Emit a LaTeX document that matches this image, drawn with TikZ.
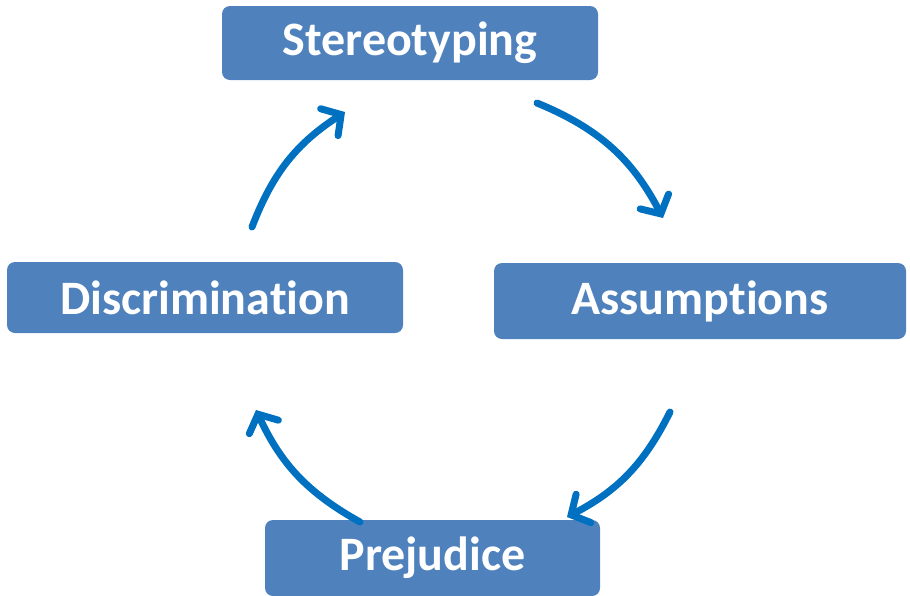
\documentclass[tikz,border=0pt]{standalone}
\usepackage{fontspec}
\setmainfont{Carlito}[Ligatures=NoCommon]
\usepackage{tikz}
\usetikzlibrary{arrows.meta}
\definecolor{cajazul}{HTML}{4F81BD}
\definecolor{flechazul}{HTML}{0070C0}
\tikzstyle{etapa} = [fill=cajazul, text=white, rectangle, rounded corners=8pt, inner sep=0pt, font=\bfseries\fontsize{48}{56}\selectfont]
\tikzstyle{flecha} = [draw=flechazul, line width=7pt, line cap=round, -{Straight Barb[length=14pt, width=32pt, line cap=round]}]

\begin{document}
\begin{tikzpicture}[x=1pt, y=-1pt]
	\useasboundingbox (0,0) rectangle (910,595);
	\node[etapa, minimum width=376pt, minimum height=74pt](estereo) at (410,43) {Stereotyping};
	\node[etapa, minimum width=412pt, minimum height=76pt](supuestos) at (700,301) {Assumptions};
	\node[etapa, minimum width=396pt, minimum height=71pt](discrim) at (205,297.5) {Discrimination};
	\node[etapa, minimum width=335pt, minimum height=76pt](prejuicio) at (432.5,558) {Prejudice};
	\coordinate (a1) at (537,103);
	\coordinate (a2) at (663,218);
	\coordinate (b1) at (670,412);
	\coordinate (b2) at (567,517);
	\coordinate (c1) at (360,522);
	\coordinate (c2) at (256,410);
	\coordinate (d1) at (252,227);
	\coordinate (d2) at (345,112);
	\draw[flecha] (a1) to[bend left=20] (a2);
	\draw[flecha] (b1) to[bend left=18] (b2);
	\draw[flecha] (c1) to[bend left=18] (c2);
	\draw[flecha] (d1) to[bend left=18] (d2);
\end{tikzpicture}
\end{document}
